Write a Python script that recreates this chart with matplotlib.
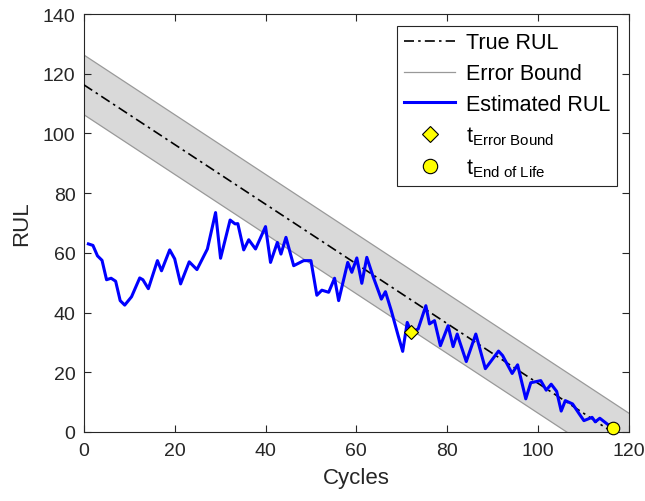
import numpy as np
import matplotlib.pyplot as plt

# Estimated RUL trace (cycle, remaining useful life)
est_cycles = [1, 2, 3, 4, 5, 6, 7, 8, 9, 10.5, 12.3, 13, 14.2, 16.2, 17.1, 18.9, 20, 21.3,
              23.2, 24.9, 27.2, 29, 30.1, 32.2, 33.3, 33.9, 35.2, 36.3, 37.8, 40, 41.1,
              42.6, 43.4, 44.5, 46.2, 48.4, 50, 51.3, 52.4, 53.9, 55.2, 56.1, 58.1, 59,
              60.1, 61.2, 62.3, 63.7, 65.5, 66.4, 67.7, 69.2, 70.2, 71.2, 72.1, 73.6,
              75.3, 76.1, 77.2, 78.5, 80.2, 81.3, 82.2, 82.8, 84.2, 86.3, 88.4, 91.3,
              92.2, 94.3, 95.5, 97.3, 98.4, 100.6, 101.8, 102.9, 104.1, 105.1, 106,
              107.6, 109.1, 110.1, 111.9, 112.6, 113.6, 115.2, 116.5]
est_rul = [63, 62.5, 59, 57.5, 51, 51.5, 50.5, 44, 42.5, 45.3, 51.6, 51, 48, 57.4, 54, 61,
           58, 49.6, 57, 54.4, 61.3, 73.5, 58.2, 71, 69.7, 69.8, 61, 64.4, 61.3, 68.8,
           56.8, 63.5, 59.6, 65.2, 55.7, 57.4, 57.4, 45.8, 47.5, 46.8, 51.5, 44, 56.8,
           53.5, 58.3, 49.8, 58.5, 52, 44.5, 47, 40.6, 32.3, 27, 36.7, 33.4, 34.5,
           42.3, 36.2, 37.3, 28.9, 35.6, 28.6, 32.8, 30, 23.6, 32.8, 21.2, 27.1, 25.6,
           19.6, 22.5, 11.1, 16.5, 17.2, 14, 16, 13.6, 7, 10.5, 9.4, 6, 3.8, 4.9, 3.4,
           4.6, 2.7, 1.2]

# True RUL line and error bound
true_cycles = [0, 116.3]
true_rul = [116.3, 0]
bound_cycles = [0, 120]
bound_width = 10

# Event markers
t_error_bound = (72.1, 33.4)
t_end_of_life = (116.5, 1.2)

plt.rcParams['font.family'] = ['Liberation Sans', 'DejaVu Sans']
plt.rcParams['mathtext.fontset'] = 'custom'
plt.rcParams['mathtext.rm'] = 'Liberation Sans'
plt.rcParams['mathtext.it'] = 'Liberation Sans'
axis_color = '#262626'

fig = plt.figure(figsize=(6.45, 5.02), dpi=100)
ax = fig.add_axes([0.130, 0.1375, 0.845, 0.8325])

bx = np.array(bound_cycles, dtype=float)
slope = (true_rul[1] - true_rul[0]) / (true_cycles[1] - true_cycles[0])
center = true_rul[0] + slope * (bx - true_cycles[0])
upper = center + bound_width
lower = center - bound_width

ax.fill_between(bx, lower, upper, color='#d9d9d9', lw=0, zorder=1)
ax.plot(true_cycles, true_rul, color='k', ls=(0, (6, 2.5, 1.5, 2.5)), lw=1.2,
        label='True RUL', zorder=3)
ax.plot(bx, upper, color='#999999', lw=0.9, label='Error Bound', zorder=2)
ax.plot(bx, lower, color='#999999', lw=0.9, zorder=2)
ax.plot(est_cycles, est_rul, color='#0000ff', lw=2.2, label='Estimated RUL', zorder=4)
ax.plot(*t_error_bound, ls='none', marker='D', ms=7, mfc='#ffff00', mec='k', mew=0.8,
        label=r'$\mathrm{t_{Error\ Bound}}$', zorder=5)
ax.plot(*t_end_of_life, ls='none', marker='o', ms=9, mfc='#ffff00', mec='k', mew=0.8,
        label=r'$\mathrm{t_{End\ of\ Life}}$', zorder=5, clip_on=False)

ax.set_xlim(0, 120)
ax.set_ylim(0, 140)
ax.set_xticks(np.arange(0, 121, 20))
ax.set_yticks(np.arange(0, 141, 20))
ax.set_xlabel('Cycles', fontsize=16, color=axis_color, labelpad=6)
ax.set_ylabel('RUL', fontsize=16, color=axis_color, labelpad=8)
ax.tick_params(direction='in', length=5, width=0.8, top=True, right=True,
               labelsize=14, colors=axis_color)
ax.tick_params(axis='x', pad=7)
ax.tick_params(axis='y', pad=6)
for s in ax.spines.values():
    s.set_color(axis_color)
    s.set_linewidth(0.8)

leg = ax.legend(loc='upper right', fontsize=15.5, frameon=True, fancybox=False,
                edgecolor=axis_color, framealpha=1, handlelength=2.4,
                handletextpad=0.5, borderaxespad=0.55, labelspacing=0.45,
                borderpad=0.3, markerscale=1.15)
leg.get_frame().set_linewidth(0.8)

fig.savefig('out.png', dpi=100)
